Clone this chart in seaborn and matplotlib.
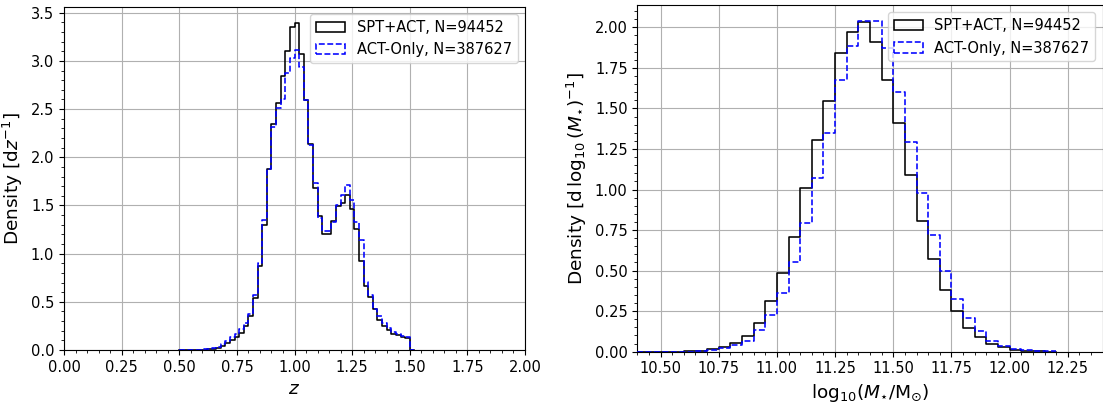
import numpy as np
import pandas as pd
import matplotlib
matplotlib.use("Agg")
import matplotlib.pyplot as plt
from matplotlib.patches import Patch
from matplotlib.ticker import MultipleLocator
import seaborn as sns

# ---------------- data ----------------
# redshift histogram: bins of width 0.02 from 0.50 (last bin 1.50-1.52 is empty)
z_edges = np.round(np.arange(0.50, 1.5201, 0.02), 2)
z_spt = [0.000, 0.000, 0.001, 0.002, 0.003, 0.005, 0.008, 0.013, 0.025, 0.045,
         0.075, 0.100, 0.140, 0.180, 0.250, 0.350, 0.540, 0.870, 1.300, 1.880,
         2.350, 2.560, 2.840, 3.100, 3.350, 3.390, 3.070, 2.590, 2.140, 1.680,
         1.390, 1.200, 1.200, 1.340, 1.490, 1.530, 1.610, 1.460, 1.260, 0.920,
         0.660, 0.550, 0.430, 0.310, 0.250, 0.210, 0.170, 0.160, 0.130, 0.120,
         0.000]
z_act = [0.000, 0.001, 0.002, 0.003, 0.004, 0.006, 0.010, 0.020, 0.035, 0.060,
         0.090, 0.130, 0.170, 0.220, 0.280, 0.370, 0.570, 0.900, 1.350, 1.880,
         2.310, 2.510, 2.600, 2.870, 3.030, 3.110, 2.940, 2.590, 2.130, 1.730,
         1.370, 1.240, 1.240, 1.330, 1.500, 1.610, 1.710, 1.560, 1.330, 1.140,
         0.710, 0.570, 0.430, 0.350, 0.280, 0.230, 0.190, 0.170, 0.150, 0.130,
         0.000]

# stellar-mass histogram: bins of width 0.05 from 10.40 to 12.20
m_edges = np.round(np.arange(10.40, 12.2001, 0.05), 2)
m_spt = [0.000, 0.000, 0.000, 0.001, 0.002, 0.006, 0.015, 0.031, 0.055, 0.099,
         0.175, 0.313, 0.485, 0.705, 1.009, 1.305, 1.548, 1.840, 1.973, 2.035,
         1.908, 1.677, 1.410, 1.089, 0.806, 0.571, 0.378, 0.251, 0.144, 0.093,
         0.045, 0.027, 0.013, 0.005, 0.003, 0.001]
m_act = [0.000, 0.000, 0.000, 0.0005, 0.001, 0.003, 0.008, 0.021, 0.041, 0.068,
         0.132, 0.226, 0.364, 0.551, 0.792, 1.071, 1.348, 1.673, 1.885, 2.041,
         2.039, 1.872, 1.603, 1.291, 0.980, 0.719, 0.500, 0.325, 0.210, 0.128,
         0.066, 0.037, 0.019, 0.008, 0.004, 0.002]

label_spt = "SPT+ACT, N=94452"
label_act = "ACT-Only, N=387627"

# ---------------- plot ----------------
LW = 1.15
TICK_FS = 10.5
LABEL_FS = 13.3
LEG_FS = 10.5

fig = plt.figure(figsize=(11.03, 4.03), dpi=100)
ax1 = fig.add_axes([64 / 1103, 53 / 403, 461 / 1103, 343 / 403])
ax2 = fig.add_axes([637.3 / 1103, 51.3 / 403, 465.4 / 1103, 346.6 / 403])


def draw(ax, edges, v1, v2):
    edges = [float(e) for e in edges]
    centers = [0.5 * (a + b) for a, b in zip(edges[:-1], edges[1:])]
    d1 = pd.DataFrame({"x": centers, "w": [float(v) for v in v1]})
    d2 = pd.DataFrame({"x": centers, "w": [float(v) for v in v2]})
    sns.histplot(data=d1, x="x", weights="w", bins=edges, stat="count",
                 element="step", fill=False, color="black",
                 linewidth=LW, ax=ax, zorder=3)
    sns.histplot(data=d2, x="x", weights="w", bins=edges, stat="count",
                 element="step", fill=False, color="blue",
                 linewidth=LW, linestyle="--", ax=ax, zorder=3)
    handles = [Patch(facecolor="none", edgecolor="black", linewidth=LW, label=label_spt),
               Patch(facecolor="none", edgecolor="blue", linewidth=LW,
                     linestyle="--", label=label_act)]
    ax.legend(handles=handles, loc="upper right", fontsize=LEG_FS)
    ax.grid(True, which="major", color="#b0b0b0", linewidth=0.8)
    ax.tick_params(axis="both", which="major", labelsize=TICK_FS)


draw(ax1, z_edges, z_spt, z_act)
ax1.set_xlim(0.0, 2.0)
ax1.set_ylim(0.0, 3.56)
ax1.xaxis.set_major_locator(MultipleLocator(0.25))
ax1.xaxis.set_minor_locator(MultipleLocator(0.05))
ax1.yaxis.set_major_locator(MultipleLocator(0.5))
ax1.yaxis.set_minor_locator(MultipleLocator(0.1))
ax1.set_xlabel(r"$z$", fontsize=LABEL_FS)
ax1.set_ylabel(r"Density [d$z^{-1}$]", fontsize=LABEL_FS)

draw(ax2, m_edges, m_spt, m_act)
ax2.set_xlim(10.4, 12.4)
ax2.set_ylim(0.0, 2.137)
ax2.xaxis.set_major_locator(MultipleLocator(0.25))
ax2.xaxis.set_minor_locator(MultipleLocator(0.05))
ax2.yaxis.set_major_locator(MultipleLocator(0.25))
ax2.yaxis.set_minor_locator(MultipleLocator(0.05))
ax2.set_xlabel(r"$\mathrm{log}_{10}(M_{\star}/\mathrm{M}_{\odot})$", fontsize=LABEL_FS)
ax2.set_ylabel(r"Density [d$\,\log_{10}(M_{\star})^{-1}$]", fontsize=LABEL_FS)

fig.savefig("out.png", dpi=100)
